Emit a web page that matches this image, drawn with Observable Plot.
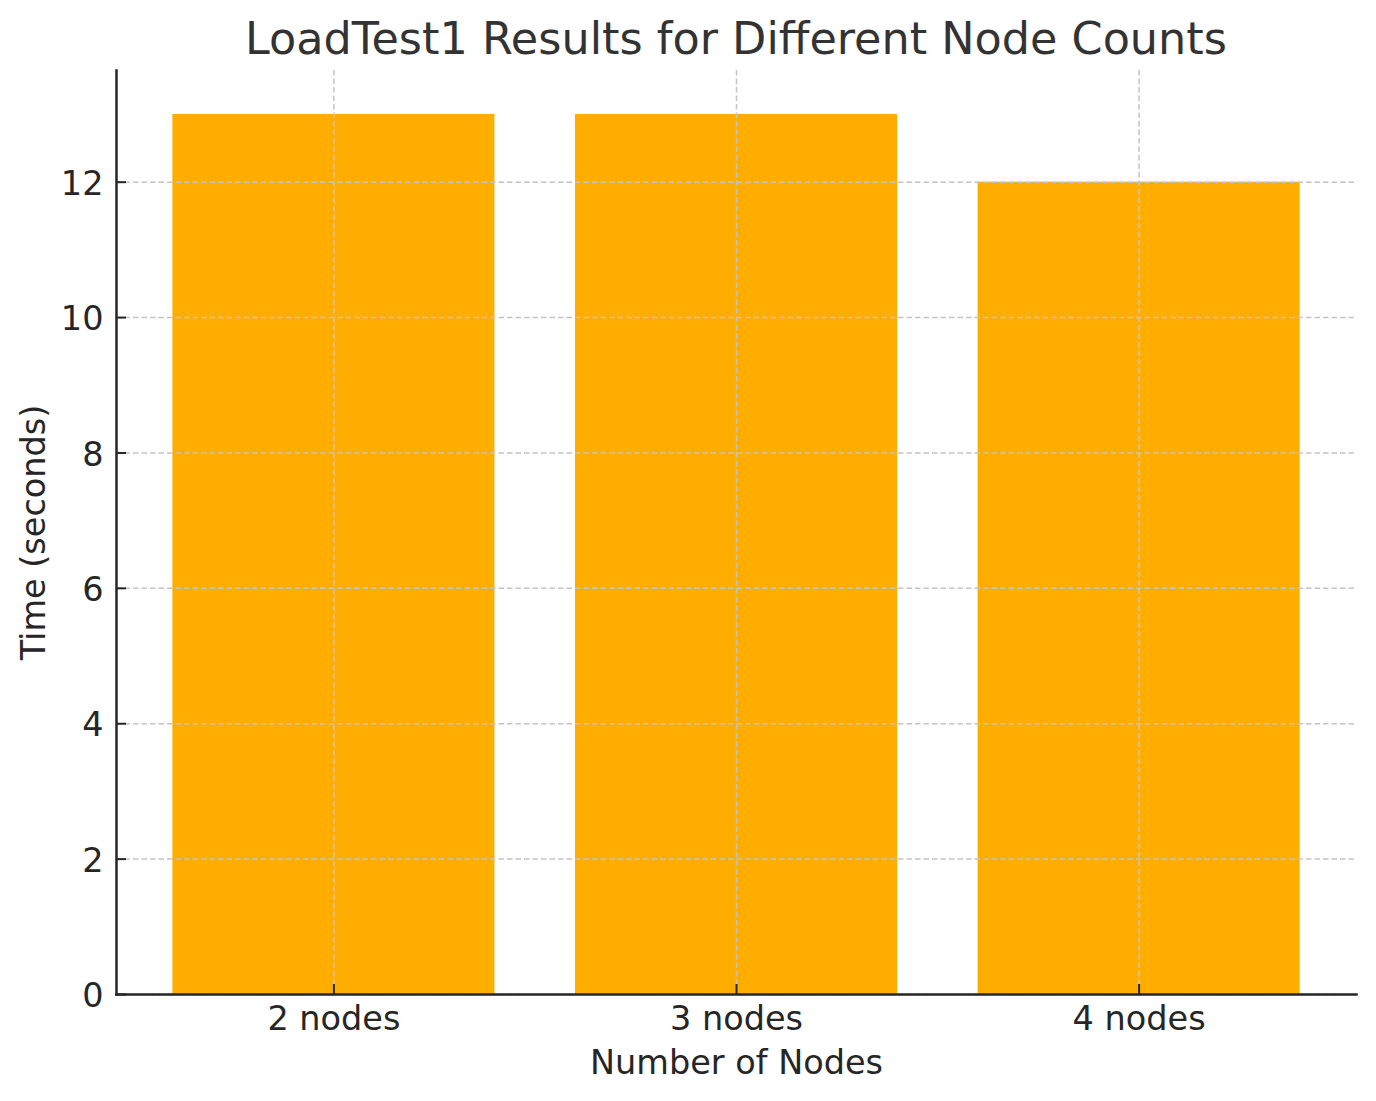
<!DOCTYPE html>
<html>
<head>
<meta charset="utf-8">
<script src="https://cdn.jsdelivr.net/npm/d3@7"></script>
<script src="https://cdn.jsdelivr.net/npm/@observablehq/plot@0.6"></script>
<style>
  html, body { margin: 0; padding: 0; background: #ffffff; }
  body { width: 1376px; height: 1101px; overflow: hidden; font-family: "DejaVu Sans", sans-serif; }
  #title {
    box-sizing: border-box;
    height: 66px;
    padding: 17px 20px 0 116px;
    font-size: 44.5px;
    line-height: 44px;
    color: #333333;
    text-align: center;
    white-space: nowrap;
  }
  #chart svg { display: block; }
</style>
</head>
<body>
<div id="title">LoadTest1 Results for Different Node Counts</div>
<div id="chart"></div>
<script>
// ---- data ----
const categories = ["2 nodes", "3 nodes", "4 nodes"];
const times = [13, 13, 12];
const yTicks = [0, 2, 4, 6, 8, 10, 12];
const titleText = "LoadTest1 Results for Different Node Counts";
const xLabel = "Number of Nodes";
const yLabel = "Time (seconds)";

const rows = categories.map((c, i) => ({ nodes: c, time: times[i] }));

const W = 1376, H = 1101 - 66;
const mL = 116, mR = 20, mT = 4, mB = 107;
const innerW = W - mL - mR, innerH = H - mT - mB;
const ink = "#262626";
const fs = 33.5;
const gridStyle = { stroke: "#c4c4c4", strokeWidth: 1.5, strokeDasharray: "5.5,3", strokeOpacity: 1 };

const chart = Plot.plot({
  width: W,
  height: H,
  marginLeft: mL,
  marginRight: mR,
  marginTop: mT,
  marginBottom: mB,
  style: { fontFamily: "DejaVu Sans, sans-serif", fontSize: fs + "px", color: ink, background: "#ffffff", overflow: "visible" },
  x: { domain: categories, paddingInner: 0.2, paddingOuter: 0.14, round: false, label: null },
  y: { domain: [0, 13.65], label: null },
  marks: [
    Plot.barY(rows, { x: "nodes", y: "time", fill: "#ffae00" }),
    Plot.gridX(categories, gridStyle),
    Plot.gridY(yTicks, gridStyle),
    Plot.tickY(yTicks, { y: d => d, stroke: ink, strokeWidth: 2, insetRight: innerW - 10 }),
    Plot.tickX(categories, { x: d => d, stroke: ink, strokeWidth: 2, insetTop: innerH - 10 }),
    Plot.axisY(yTicks, { tickSize: 0, tickPadding: 13, dy: 2, label: null, fill: ink, tickFormat: d => String(d) }),
    Plot.axisX(categories, { tickSize: 0, tickPadding: 12, label: null, fill: ink }),
    Plot.frame({ anchor: "left", stroke: ink, strokeWidth: 2.5 }),
    Plot.frame({ anchor: "bottom", stroke: ink, strokeWidth: 2.5 }),
    Plot.text([yLabel], { frameAnchor: "left", textAnchor: "middle", lineAnchor: "middle", rotate: -90, dx: -82.6, fill: ink, fontSize: fs }),
    Plot.text([xLabel], { frameAnchor: "bottom", textAnchor: "middle", lineAnchor: "middle", dy: 68.7, fill: ink, fontSize: fs })
  ]
});
document.getElementById("chart").appendChild(chart);
</script>
</body>
</html>
